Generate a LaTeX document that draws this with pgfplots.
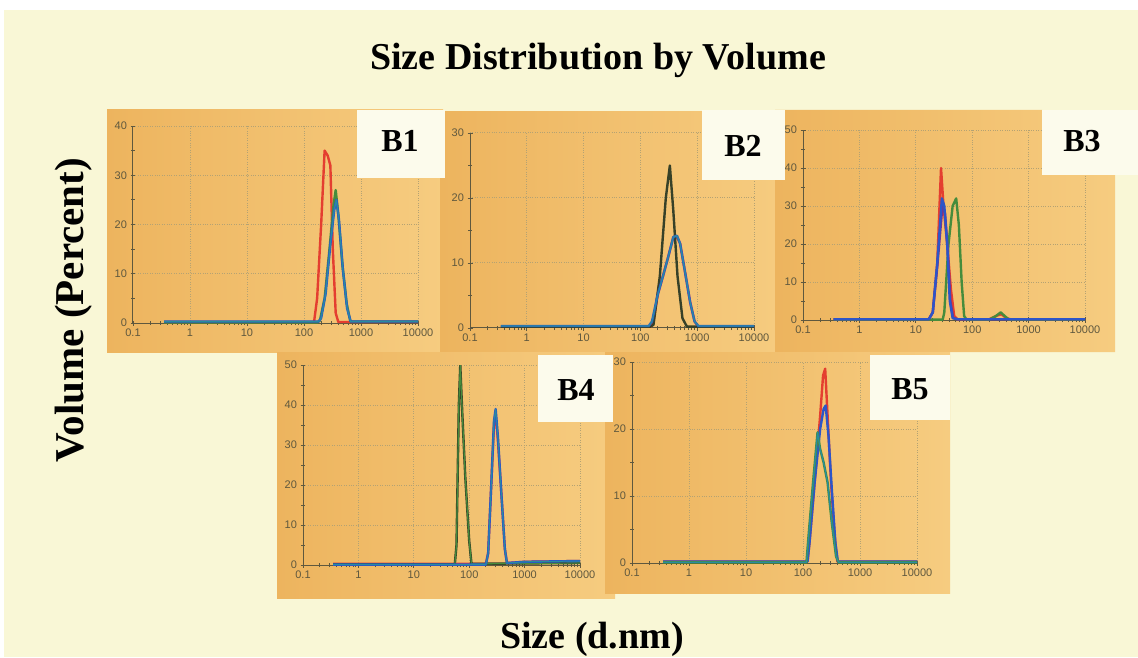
\documentclass[border=0pt]{standalone}
\usepackage{fontspec}
\setmainfont{Liberation Serif}
\setsansfont{Liberation Sans}
\usepackage{pgfplots}
\pgfplotsset{compat=1.18}
\definecolor{cream}{RGB}{249,247,214}
\definecolor{panL}{RGB}{237,180,94}
\definecolor{panR}{RGB}{246,204,128}
\definecolor{lbl}{RGB}{252,251,236}
\definecolor{axc}{RGB}{95,88,62}
\definecolor{gridc}{RGB}{180,162,115}
\definecolor{cR}{RGB}{228,62,48}
\definecolor{cG}{RGB}{70,140,60}
\definecolor{cB}{RGB}{45,85,200}
\definecolor{cT}{RGB}{40,140,160}
\definecolor{cK}{RGB}{55,65,40}
\definecolor{cP}{RGB}{120,50,140}
\pgfkeys{/pgf/number format/assume math mode=true}
\pgfplotsset{every axis/.append style={
  scale only axis, xmin=0.1, xmax=10000, ymin=0,
  anchor=south west,
  axis x line=bottom, axis y line=left,
  axis line style={axc, -, line width=1pt},
  xtick={0.1,1,10,100,1000,10000},
  xticklabels={0.1,1,10,100,1000,10000},
  minor y tick num=1,
  grid=major, major grid style={gridc, dotted, line width=1pt},
  tick style={axc, line width=0.8pt}, tick align=center,
  major tick length=5pt, minor tick length=4pt,
  tick label style={font=\sffamily\fontsize{11}{12}\selectfont, text=axc},
}}
\pgfplotsset{every axis plot/.append style={line width=2.4pt, no marks, line join=round}}
\newcommand{\lab}[1]{\fontsize{32}{34}\selectfont\bfseries #1}
\begin{document}
\begin{tikzpicture}
\useasboundingbox (0pt,0pt) rectangle (1138pt,657pt);
\fill[white] (0pt,0pt) rectangle (1138pt,657pt);
\fill[cream] (4pt,0pt) rectangle (1138pt,647pt);
% panels
\shade[left color=panL, right color=panR] (107pt,305pt) rectangle (443pt,547pt);
\shade[left color=panL, right color=panR] (440pt,305pt) rectangle (787pt,545pt);
\shade[left color=panL, right color=panR] (775pt,305pt) -- (775pt,547pt) -- (1042pt,547pt) -- (1042pt,482pt) -- (1115pt,482pt) -- (1115pt,305pt) -- cycle;
\shade[left color=panL, right color=panR] (277pt,59pt) rectangle (615pt,305pt);
\shade[left color=panL, right color=panR] (605pt,64pt) rectangle (950pt,305pt);

% ---------- B1 ----------
\begin{semilogxaxis}[at={(133pt,334pt)}, width=285pt, height=197pt, ymax=40, ytick={0,10,20,30,40}]
\addplot[cR] coordinates {(0.35,0.2)(150,0.2)(170,5)(200,20)(230,35)(260,34)(290,32)(320,15)(360,2)(400,0.2)(10000,0.2)};
\addplot[cG] coordinates {(0.35,0.1)(170,0.1)(190,0.5)(230,5)(280,15)(330,24)(360,27)(400,22)(470,12)(560,4)(650,0.3)(10000,0.3)};
\addplot[cB] coordinates {(0.35,0.3)(180,0.3)(200,1)(240,6)(290,16)(340,23)(370,25)(410,21)(480,11)(570,3)(660,0.3)(10000,0.3)};
\addplot[cT, line width=1.2pt] coordinates {(0.35,0.3)(180,0.3)(200,1)(240,6)(290,16)(340,23)(370,25)(410,21)(480,11)(570,3)(660,0.3)(10000,0.3)};
\end{semilogxaxis}

% ---------- B2 ----------
\begin{semilogxaxis}[at={(470pt,329pt)}, width=284pt, height=195pt, ymax=30, ytick={0,10,20,30}]
\addplot[cR] coordinates {(0.35,0.1)(150,0.1)(170,1)(200,5)(250,8)(310,11)(380,14)(440,14)(500,13)(600,9)(750,4)(900,1)(1050,0.2)(10000,0.2)};
\addplot[cK] coordinates {(0.35,0.2)(150,0.2)(170,0.5)(220,8)(280,20)(330,25)(380,18)(450,8)(550,1.5)(660,0.2)(10000,0.2)};
\addplot[cB] coordinates {(0.35,0.3)(140,0.3)(160,1)(200,5)(250,8)(310,11)(380,14)(440,14.2)(500,13)(600,9)(750,4)(900,1)(1050,0.3)(10000,0.3)};
\addplot[cT, line width=1.2pt] coordinates {(0.35,0.3)(140,0.3)(160,1)(200,5)(250,8)(310,11)(380,14)(440,14.2)(500,13)(600,9)(750,4)(900,1)(1050,0.3)(10000,0.3)};
\end{semilogxaxis}

% ---------- B3 ----------
\begin{semilogxaxis}[at={(803pt,337pt)}, width=282pt, height=190pt, ymax=50, ytick={0,10,20,30,40,50}]
\addplot[cR] coordinates {(0.35,0.2)(17,0.2)(20,2)(24,15)(28,40)(31,30)(36,20)(42,8)(48,1)(55,0.2)(200,0.2)(280,1.2)(330,1.5)(400,0.5)(500,0.1)(10000,0.1)};
\addplot[cG] coordinates {(0.35,0.1)(30,0.1)(32,2)(38,20)(45,30)(52,32)(58,25)(65,10)(72,1)(80,0.1)(200,0.1)(260,1)(320,2)(380,1)(450,0.1)(10000,0.1)};
\addplot[cP] coordinates {(0.35,0.2)(17,0.2)(20,2)(24,14)(30,31)(33,28)(37,18)(41,5)(46,0.5)(55,0.2)(10000,0.2)};
\addplot[cB] coordinates {(0.35,0.2)(17,0.2)(20,2)(24,15)(29,32)(32,30)(36,20)(40,5)(45,0.5)(55,0.2)(10000,0.2)};
\end{semilogxaxis}

% ---------- B4 ----------
\begin{semilogxaxis}[at={(303pt,92pt)}, width=277pt, height=200pt, ymax=50, ytick={0,10,20,30,40,50}]
\addplot[cR] coordinates {(0.35,0.3)(200,0.3)(220,3)(250,20)(280,35)(300,38)(330,31)(380,18)(440,4)(480,0.5)(1000,0.8)(10000,1)};
\addplot[cK] coordinates {(0.35,0.2)(55,0.2)(59,5)(65,40)(69,50)(75,38)(85,22)(100,6)(110,0.3)(10000,0.5)};
\addplot[cG, line width=1.2pt] coordinates {(0.35,0.2)(55,0.2)(59,5)(65,40)(69,50)(75,38)(85,22)(100,6)(110,0.3)(10000,0.5)};
\addplot[cB] coordinates {(0.35,0.1)(200,0.1)(220,3)(250,20)(280,36)(300,39)(330,32)(380,18)(440,4)(480,0.5)(1000,0.8)(10000,1)};
\addplot[cT, line width=1pt] coordinates {(0.35,0.1)(200,0.1)(220,3)(250,20)(280,36)(300,39)(330,32)(380,18)(440,4)(480,0.5)(1000,0.8)(10000,1)};
\end{semilogxaxis}

% ---------- B5 ----------
\begin{semilogxaxis}[at={(632pt,94pt)}, width=285pt, height=201pt, ymax=30, ytick={0,10,20,30}]
\addplot[cR] coordinates {(0.35,0.2)(120,0.2)(130,3)(160,12)(200,22)(225,28)(245,29)(270,22)(310,12)(360,4)(400,0.2)(10000,0.2)};
\addplot[cB] coordinates {(0.35,0.2)(120,0.2)(130,3)(160,12)(200,20)(230,23)(250,23.5)(280,19)(320,11)(370,3)(410,0.2)(10000,0.2)};
\addplot[cG] coordinates {(0.35,0.1)(115,0.1)(125,4)(150,12)(180,19.5)(200,17)(230,15)(270,12)(320,6)(380,1)(420,0.1)(10000,0.1)};
\addplot[cT, line width=1.2pt] coordinates {(0.35,0.1)(115,0.1)(125,4)(150,12)(180,19.5)(200,17)(230,15)(270,12)(320,6)(380,1)(420,0.1)(10000,0.1)};
\end{semilogxaxis}

% label boxes
\fill[lbl] (357pt,479pt) rectangle (445pt,547pt);
\fill[lbl] (702pt,477pt) rectangle (785pt,547pt);
\fill[lbl] (1042pt,482pt) rectangle (1138pt,547pt);
\fill[lbl] (538pt,235pt) rectangle (613pt,302pt);
\fill[lbl] (870pt,237pt) rectangle (950pt,302pt);
% labels
\node at (400pt,516pt) {\lab{B1}};
\node at (743pt,511pt) {\lab{B2}};
\node at (1082pt,516pt) {\lab{B3}};
\node at (576pt,267pt) {\lab{B4}};
\node at (910pt,268pt) {\lab{B5}};
\node[anchor=base] at (598pt,587pt) {\fontsize{38}{40}\selectfont\bfseries Size Distribution by Volume};
\node[anchor=base] at (592pt,9pt) {\fontsize{38}{40}\selectfont\bfseries Size (d.nm)};
\node[anchor=base, rotate=90] at (83pt,347pt) {\fontsize{41}{43}\selectfont\bfseries Volume (Percent)};
\end{tikzpicture}
\end{document}
